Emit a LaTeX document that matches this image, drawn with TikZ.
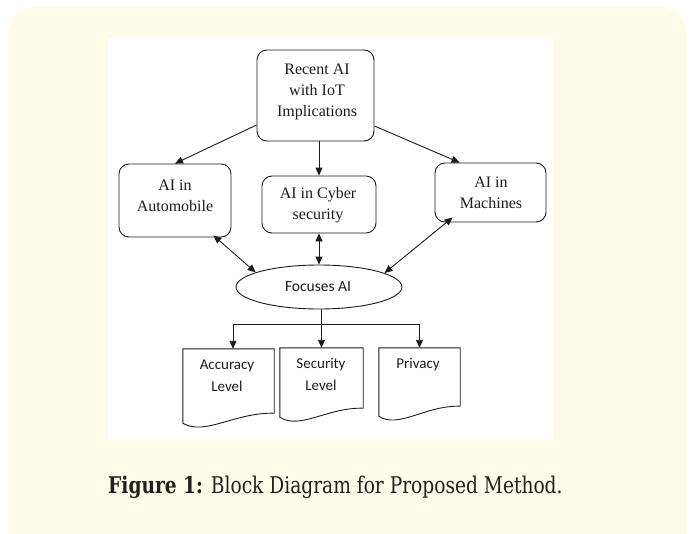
\documentclass[tikz,border=0pt]{standalone}
\usepackage{fontspec}
\setmainfont{Liberation Serif}
\newfontfamily\docfont{Carlito}
\newfontfamily\capfont{DejaVu Serif Condensed}
\usetikzlibrary{arrows.meta,shapes.geometric,calc}
\definecolor{panel}{HTML}{FFFBE9}
\definecolor{ink}{HTML}{1C1C1C}
\definecolor{captext}{HTML}{231F20}

% outline of a document shape hung on a named (undrawn) rectangle node:
% #1 node name, #2 extra drop of the left edge, #3 width
\newcommand\docoutline[3]{%
  \draw[docline] (#1.south east) -- (#1.north east) -- (#1.north west)
    -- ($(#1.south west)+(0,#2)$)
    .. controls ($(#1.south west)+(0.24*#3,#2+13)$) and ($(#1.south east)+(-0.43*#3,-1)$)
    .. (#1.south east) -- cycle;}

\begin{document}
\begin{tikzpicture}[x=1pt,y=-1pt,
  rbox/.style={draw=ink, line width=0.9pt, rounded corners=10pt, inner sep=0pt},
  serifline/.style={font=\fontsize{16}{21}\selectfont, align=center, text=ink, inner sep=0pt},
  doctext/.style={font=\docfont\fontsize{15}{22}\selectfont, align=center, text=ink, inner sep=0pt},
  docbox/.style={rectangle, inner sep=0pt},
  docline/.style={draw=ink, line width=0.9pt, line join=miter},
  oval/.style={ellipse, draw=ink, line width=0.9pt, inner sep=0pt},
  arr/.style={-{Triangle[length=8pt,width=7pt]}, draw=ink, line width=0.9pt},
  biarr/.style={{Triangle[length=8pt,width=7pt]}-{Triangle[length=8pt,width=7pt]}, draw=ink, line width=0.9pt}
]
\useasboundingbox (0,0) rectangle (690,533);
\begin{scope}
  \clip (0,0) rectangle (690,533);
  \fill[white] (0,0) rectangle (690,533);
  \fill[panel, rounded corners=28pt] (8,7) rectangle (687,570);
\end{scope}
\fill[white] (108,38) rectangle (553,440);

% boxes
\node[rbox, minimum width=117, minimum height=91] (top) at (315.5,95.5) {};
\node[rbox, minimum width=112, minimum height=73] (auto) at (175,200.5) {};
\node[rbox, minimum width=114, minimum height=57] (cyber) at (319,204.5) {};
\node[rbox, minimum width=111, minimum height=59] (mach) at (490.5,192.5) {};
\node[oval, minimum width=166, minimum height=44] (focus) at (319,287) {};

\node[serifline] (toptxt) at (317,92) {Recent AI\\with IoT\\Implications};
\node[serifline] (autotxt) at (175,196) {AI in\\Automobile};
\node[serifline] (cybertxt) at (318,205) {AI in Cyber\\security};
\node[serifline] (machtxt) at (491,193) {AI in\\Machines};
\node[doctext, font=\docfont\fontsize{15.5}{20}\selectfont] (focustxt) at (318,287) {Focuses AI};

% documents
\node[docbox, minimum width=91, minimum height=64] (acc) at (228.5,381) {};
\node[docbox, minimum width=83, minimum height=60] (sec) at (321.5,378) {};
\node[docbox, minimum width=81, minimum height=58] (priv) at (419.5,377) {};
\docoutline{acc}{10}{91}
\docoutline{sec}{9}{83}
\docoutline{priv}{10}{81}
\node[doctext] (acctxt) at (227,376) {Accuracy\\Level};
\node[doctext] (sectxt) at (321,374) {Security\\Level};
\node[doctext] (privtxt) at (418,365) {Privacy};

% connectors from the top box
\draw[arr] ($(top.west)+(0,29.5)$) -- (auto.north);
\draw[arr] (top.south -| cyber.north) -- (cyber.north);
\draw[arr] ($(top.east)+(0,30.5)$) -- ($(mach.north west)+(25,0)$);

% two-way links to the ellipse
\draw[biarr] ($(auto.south east)+(-18,-2)$) -- (focus.167);
\draw[biarr] (cyber.south) -- (focus.north);
\draw[biarr] ($(mach.south west)+(18,-5)$) -- (focus.12);

% branching to the documents
\coordinate (fork) at ($(focus.south)+(2.5,15)$);
\draw[arr] (focus.south -| sec.north) -- (sec.north);
\draw[arr] (fork) -| ($(acc.north)+(4.5,0)$);
\draw[arr] (fork) -| (priv.north);

% caption
\node[anchor=base west, inner sep=0pt, text=captext, font=\capfont\fontsize{23}{27}\selectfont] (cap) at (108,493)
  {\scalebox{0.9}[1]{\textbf{Figure 1:} Block Diagram for Proposed Method.}};
\end{tikzpicture}
\end{document}
